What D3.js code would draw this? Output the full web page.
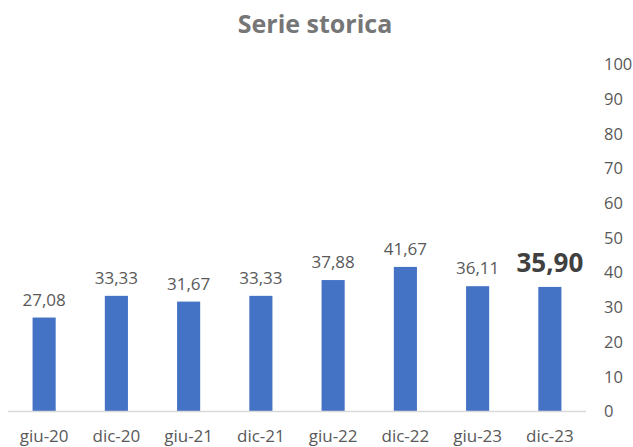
<!DOCTYPE html>
<html><head><meta charset="utf-8">
<script src="https://cdn.jsdelivr.net/npm/d3@7"></script>
<style>body{margin:0;background:#fff}svg{display:block}</style>
</head><body><svg id="c" width="633" height="447"></svg>
<script>
const categories = ["giu-20","dic-20","giu-21","dic-21","giu-22","dic-22","giu-23","dic-23"];
const values = [27.08,33.33,31.67,33.33,37.88,41.67,36.11,35.90];
const yTicks = [0,10,20,30,40,50,60,70,80,90,100];
const title = "Serie storica";

const svg = d3.select("#c");
const font = "'Open Sans', 'Noto Sans', sans-serif";
const x = d3.scaleBand().domain(categories).range([8,586]).paddingInner(0.68).paddingOuter(0.34);
const y = d3.scaleLinear().domain([0,100]).range([411.5,64.5]);
const fmt = v => v.toFixed(2).replace(".", ",");

svg.append("text").attr("x",315).attr("y",33).attr("text-anchor","middle")
  .attr("font-family",font).attr("font-weight","bold").attr("font-size",25).attr("fill","#767676").text(title);

svg.selectAll("rect.bar").data(values).join("rect").attr("class","bar")
  .attr("x",(d,i)=>x(categories[i])).attr("width",x.bandwidth())
  .attr("y",d=>y(d)).attr("height",d=>y(0)-y(d)).attr("fill","#4472c4");

svg.append("line").attr("x1",8).attr("x2",586).attr("y1",y(0)).attr("y2",y(0))
  .attr("stroke","#d9d9d9").attr("stroke-width",1.5);

// right axis
const ax = svg.append("g").attr("transform","translate(599,0)")
  .call(d3.axisRight(y).tickValues(yTicks).tickSize(0).tickPadding(5));
ax.select(".domain").remove();
ax.selectAll("text").attr("font-family",font).attr("font-size",16.5).attr("fill","#595959");

// bottom axis
const bx = svg.append("g").attr("transform",`translate(0,${y(0)})`)
  .call(d3.axisBottom(x).tickSize(0).tickPadding(0));
bx.select(".domain").remove();
bx.selectAll("text").attr("dy",null).attr("y",30).attr("font-family",font).attr("font-size",17).attr("fill","#595959");

const n = values.length;
svg.selectAll("text.lbl").data(values).join("text").attr("class","lbl")
  .attr("x",(d,i)=>x(categories[i])+x.bandwidth()/2)
  .attr("y",(d,i)=>y(d)-(i===n-1?15:12))
  .attr("text-anchor","middle").attr("font-family",font)
  .attr("font-size",(d,i)=>i===n-1?26:17)
  .attr("font-weight",(d,i)=>i===n-1?"bold":"normal")
  .attr("fill",(d,i)=>i===n-1?"#404040":"#595959")
  .text(fmt);
</script></body></html>
